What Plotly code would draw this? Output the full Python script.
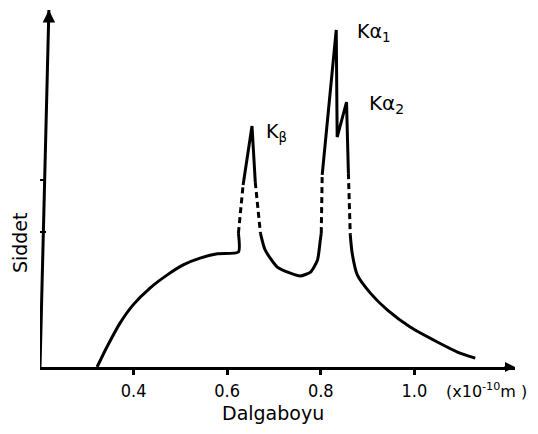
import plotly.graph_objects as go

# Wavelength (x1e-10 m) and intensity (arbitrary units)
cont_x = [0.322, 0.343, 0.371, 0.399, 0.435, 0.472, 0.506, 0.542, 0.579, 0.624, 0.624]
cont_y = [0.00, 0.56, 1.23, 1.74, 2.21, 2.58, 2.86, 3.05, 3.17, 3.22, 3.75]

kb_dash_up_x = [0.624, 0.634]
kb_dash_up_y = [3.75, 5.10]

kb_x = [0.634, 0.653, 0.660]
kb_y = [5.10, 6.75, 5.18]

kb_dash_dn_x = [0.660, 0.671]
kb_dash_dn_y = [5.18, 3.75]

valley_x = [0.671, 0.681, 0.707, 0.735, 0.756, 0.778, 0.793, 0.799, 0.801]
valley_y = [3.75, 3.28, 2.80, 2.63, 2.55, 2.66, 3.00, 3.56, 3.75]

ka_dash_up_x = [0.801, 0.803]
ka_dash_up_y = [3.75, 5.38]

ka_x = [0.803, 0.833, 0.835, 0.855, 0.859]
ka_y = [5.38, 9.44, 6.44, 7.42, 5.43]

ka_dash_dn_x = [0.859, 0.863]
ka_dash_dn_y = [5.43, 3.70]

tail_x = [0.863, 0.867, 0.878, 0.906, 0.942, 0.991, 1.049, 1.092, 1.130]
tail_y = [3.70, 3.19, 2.58, 2.07, 1.60, 1.12, 0.70, 0.42, 0.25]

x_ticks = [0.4, 0.6, 0.8, 1.0]
x_tick_labels = ["0.4", "0.6", "0.8", "1.0"]
y_ticks = [3.78, 5.24]

x_range = [0.2, 1.215]
y_range = [0, 10]

yaxis_line_x = [0.2, 0.219]
yaxis_line_y = [0, 10]

fig = go.Figure()

solid = dict(color="black", width=3)
dashed = dict(color="black", width=3, dash="6px,4px")

for xs, ys, ln in [
    (cont_x, cont_y, solid),
    (kb_dash_up_x, kb_dash_up_y, dashed),
    (kb_x, kb_y, solid),
    (kb_dash_dn_x, kb_dash_dn_y, dashed),
    (valley_x, valley_y, solid),
    (ka_dash_up_x, ka_dash_up_y, dashed),
    (ka_x, ka_y, solid),
    (ka_dash_dn_x, ka_dash_dn_y, dashed),
    (tail_x, tail_y, solid),
]:
    line = dict(shape="spline", smoothing=0.6, **ln) if len(xs) > 5 else ln
    fig.add_trace(go.Scatter(x=xs, y=ys, mode="lines", line=line,
                             showlegend=False, hoverinfo="skip", cliponaxis=False))

# hand-drawn (slightly tilted) vertical axis
fig.add_trace(go.Scatter(x=yaxis_line_x, y=yaxis_line_y, mode="lines",
                         line=dict(color="black", width=3), showlegend=False,
                         hoverinfo="skip", cliponaxis=False))

font_main = "DejaVu Sans"

annotations = [
    dict(x=yaxis_line_x[1], y=yaxis_line_y[1], ax=0, ay=14, xref="x", yref="y",
         showarrow=True, arrowhead=2, arrowsize=1, arrowwidth=2.5, arrowcolor="black", text=""),
    dict(x=x_range[1], y=0, ax=-12, ay=0, xref="x", yref="y",
         showarrow=True, arrowhead=2, arrowsize=1, arrowwidth=2, arrowcolor="black", text=""),
    dict(x=0.705, y=6.58, xref="x", yref="y", text="K<sub>β</sub>", showarrow=False,
         font=dict(family=font_main, size=19, color="black")),
    dict(x=0.913, y=9.38, xref="x", yref="y", text="Kα<sub>1</sub>", showarrow=False,
         font=dict(family=font_main, size=19, color="black")),
    dict(x=0.940, y=7.37, xref="x", yref="y", text="Kα<sub>2</sub>", showarrow=False,
         font=dict(family=font_main, size=20, color="black")),
    dict(x=0.698, y=0, yshift=-46, xref="x", yref="paper", text="Dalgaboyu", showarrow=False,
         yanchor="middle", font=dict(family=font_main, size=19, color="black")),
    dict(x=1.0, xshift=14, y=0, yshift=-23, xref="paper", yref="paper",
         text="(x10<sup>-10</sup>m )", showarrow=False, xanchor="right",
         yanchor="middle", font=dict(family=font_main, size=16, color="black")),
    dict(x=0, xshift=-20, y=3.47, xref="paper", yref="y", text="Siddet", showarrow=False,
         textangle=-90, xanchor="center", font=dict(family=font_main, size=19, color="black")),
]

# page body has an 8px margin, so the figure is shrunk to fit the 538x434 window
fig.update_layout(
    width=522, height=418,
    margin=dict(l=32, r=15, t=2, b=59),
    paper_bgcolor="white", plot_bgcolor="white",
    annotations=annotations,
    xaxis=dict(range=x_range, showgrid=False, zeroline=False, showline=True,
               linecolor="black", linewidth=3, ticks="outside", ticklen=5,
               tickwidth=2.5, tickcolor="black", tickvals=x_ticks, ticktext=x_tick_labels,
               tickfont=dict(family="DejaVu Sans Condensed", size=18, color="black")),
    yaxis=dict(range=y_range, showgrid=False, zeroline=False, showline=False,
               ticks="inside", ticklen=6, tickwidth=1.5, tickcolor="black",
               tickvals=y_ticks, showticklabels=False),
)

fig.write_html("out.html")
